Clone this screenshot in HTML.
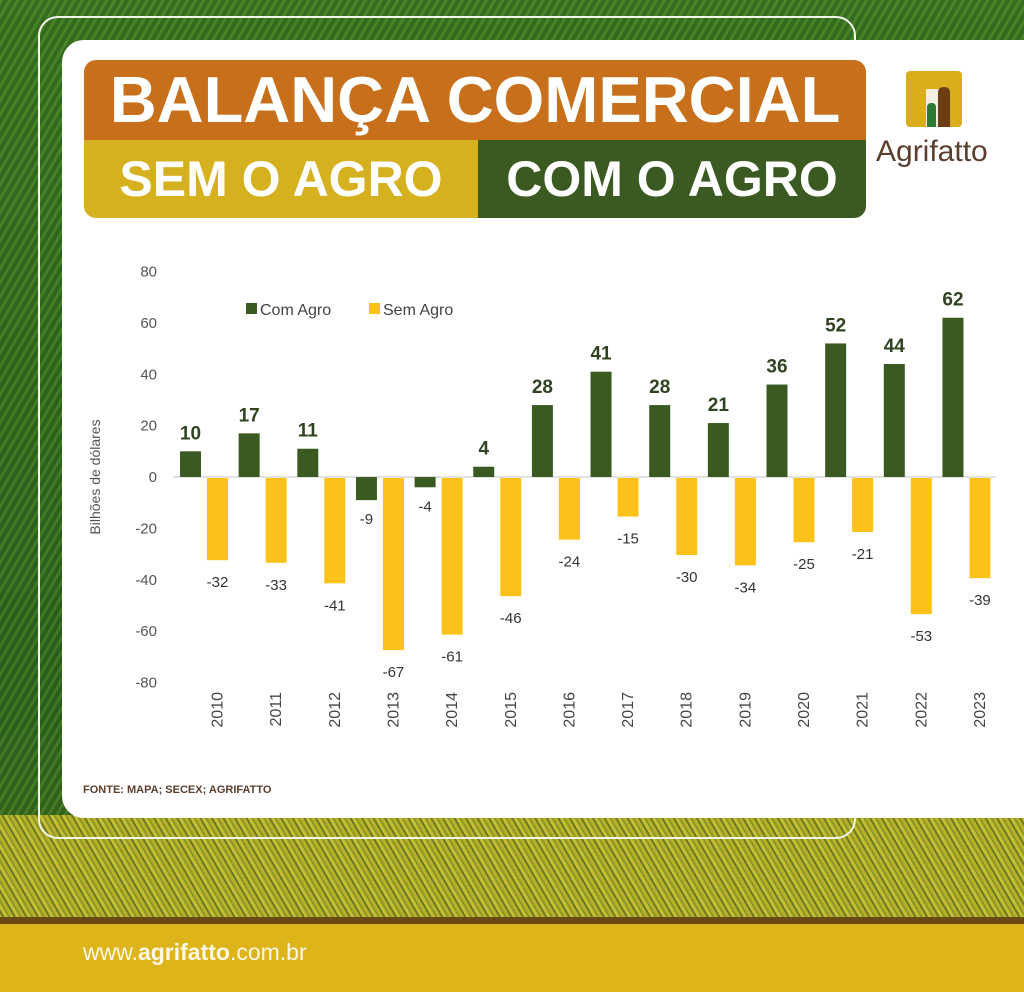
<!DOCTYPE html>
<html><head><meta charset="utf-8">
<style>
html,body{margin:0;padding:0;}
body{width:1024px;height:992px;position:relative;overflow:hidden;font-family:"Liberation Sans","DejaVu Sans",sans-serif;
background:linear-gradient(180deg,#3f7a25 0%,#356c1f 40%,#2f6420 70%,#3b6b20 82%);}
.abs{position:absolute;}
</style></head>
<body>
<div class="abs" style="left:0;top:0;width:1024px;height:820px;background:repeating-linear-gradient(120deg,rgba(90,150,50,.35) 0 3px,rgba(30,80,20,.35) 3px 7px);"></div>
<div class="abs" style="left:0;top:815px;width:1024px;height:104px;background:repeating-linear-gradient(60deg,#b5b22a 0 3px,#6f7a20 3px 5px,#c2bf34 5px 8px,#8f9424 8px 10px);"></div>
<div class="abs" style="left:0;top:917px;width:1024px;height:7px;background:#6b4a12;"></div>
<div class="abs" style="left:0;top:924px;width:1024px;height:68px;background:#ddb51b;"></div>
<div class="abs" style="left:83px;top:939px;font-size:23px;color:#fff8e6;">www.<b>agrifatto</b>.com.br</div>

<div class="abs" style="left:38px;top:16px;width:814px;height:819px;border:2px solid #f4f4ec;border-radius:20px;"></div>
<div class="abs" style="left:62px;top:40px;width:990px;height:778px;background:#fff;border-radius:22px;"></div>

<div class="abs" style="left:84px;top:60px;width:782px;height:158px;border-radius:12px;overflow:hidden;">
  <div class="abs" style="left:0;top:0;width:782px;height:80px;background:#c76f1b;color:#fff;font-weight:bold;font-size:65px;line-height:80px;text-align:center;">BALANÇA COMERCIAL</div>
  <div class="abs" style="left:0;top:80px;width:394px;height:78px;background:#d6b11f;color:#fff;font-weight:bold;font-size:50px;line-height:78px;text-align:center;">SEM O AGRO</div>
  <div class="abs" style="left:394px;top:80px;width:388px;height:78px;background:#3b5a22;color:#fff;font-weight:bold;font-size:50px;line-height:78px;text-align:center;">COM O AGRO</div>
</div>

<div class="abs" style="left:906px;top:71px;width:56px;height:56px;background:#d9ad1c;border-radius:4px;overflow:hidden;">
  <div class="abs" style="left:20px;top:18px;width:13px;height:38px;background:#f4efe0;"></div>
  <div class="abs" style="left:32px;top:16px;width:12px;height:40px;background:#6b3d12;border-radius:5px 5px 0 0;"></div>
  <div class="abs" style="left:21px;top:32px;width:9px;height:24px;background:#2d7a36;border-radius:4px 4px 0 0;"></div>
</div>
<div class="abs" style="left:876px;top:135px;font-size:30px;color:#5b3e2c;">Agrifatto</div>

<svg class="abs" style="left:0;top:0;" width="1024" height="992">
  <g id="chart"></g>
</svg>
<div class="abs" style="left:83px;top:784px;font-size:11px;font-weight:bold;color:#5b3e2c;">FONTE: MAPA; SECEX; AGRIFATTO</div>

<script>
const years=["2010","2011","2012","2013","2014","2015","2016","2017","2018","2019","2020","2021","2022","2023"];
const comAgro=[10,17,11,-9,-4,4,28,41,28,21,36,52,44,62];
const semAgro=[-32,-33,-41,-67,-61,-46,-24,-15,-30,-34,-25,-21,-53,-39];
const yTicks=[80,60,40,20,0,-20,-40,-60,-80];

const NS="http://www.w3.org/2000/svg";
const g=document.getElementById('chart');
const y0=477, pxPer=205.5/80;
function yPos(v){return y0-v*pxPer;}
function xGroup(i){return 180+i*58.65;}
const bw=21;
function mk(tag,attrs,text){const e=document.createElementNS(NS,tag);for(const k in attrs)e.setAttribute(k,attrs[k]);if(text!==undefined)e.textContent=text;g.appendChild(e);return e;}

yTicks.forEach(t=>{
  const e=mk('text',{x:157,y:yPos(t)+5,'text-anchor':'end','font-size':15,fill:'#555','font-family':'Liberation Sans, sans-serif'},String(t));
  
  
});
const axis=mk('line',{x1:173,x2:996,y1:y0,y2:y0,stroke:'#d9d9d9','stroke-width':1.5});



const yt=mk('text',{x:0,y:0,transform:'translate(100,477) rotate(-90)','text-anchor':'middle','font-size':14,fill:'#555'},'Bilhões de dólares');



years.forEach((yr,i)=>{
  const gx=xGroup(i);
  const cv=comAgro[i], sv=semAgro[i];
  const r1=mk('rect',{x:gx,y:Math.min(yPos(cv),y0),width:bw,height:Math.abs(yPos(cv)-y0),fill:'#3b5a22'});
  
  
  const r2=mk('rect',{x:gx+27,y:Math.min(yPos(sv),y0)+1,width:bw,height:Math.abs(yPos(sv)-y0),fill:'#fcc219'});
  
  
  let l1;
  if(cv>=0){
    l1=mk('text',{x:gx+bw/2,y:yPos(cv)-12,'text-anchor':'middle','font-size':19,'font-weight':'bold',fill:'#2f4321'},String(cv));
  }else{
    l1=mk('text',{x:gx+bw/2,y:yPos(cv)+24,'text-anchor':'middle','font-size':15,fill:'#333'},String(cv));
  }
  
  
  const l2=mk('text',{x:gx+27+bw/2,y:yPos(sv)+28,'text-anchor':'middle','font-size':15,fill:'#333'},String(sv));
  
  
  const cx=gx+27+bw/2+5;
  const yl=mk('text',{x:0,y:0,transform:'translate('+cx+',692) rotate(-90)','text-anchor':'end','font-size':16,fill:'#444'},yr);
  
  
});

const lg1=mk('rect',{x:246,y:303,width:11,height:11,fill:'#3b5a22'});


const lt1=mk('text',{x:260,y:315,'font-size':16,fill:'#444'},'Com Agro');


const lg2=mk('rect',{x:369,y:303,width:11,height:11,fill:'#fcc219'});


const lt2=mk('text',{x:383,y:315,'font-size':16,fill:'#444'},'Sem Agro');


</script>
</body></html>
